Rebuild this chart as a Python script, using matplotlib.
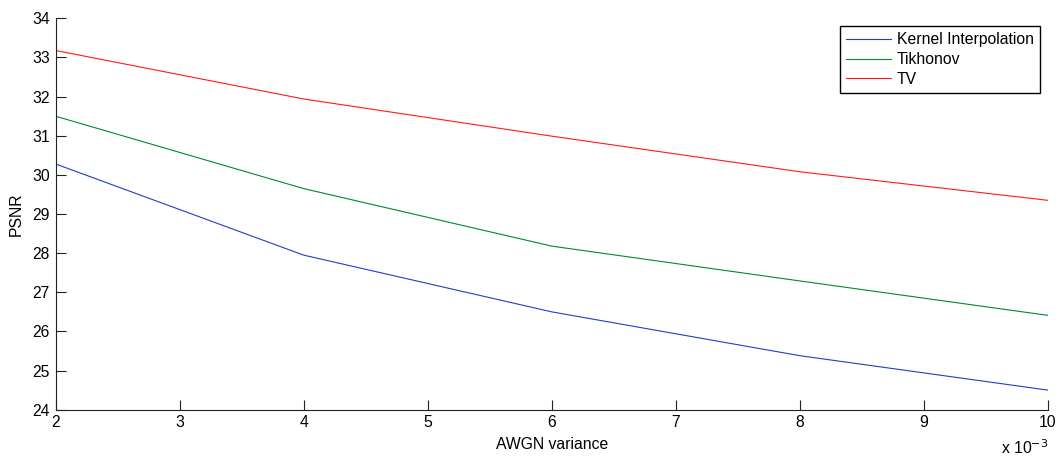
import matplotlib
matplotlib.use('Agg')
import matplotlib.pyplot as plt
import numpy as np

# AWGN variance (x 1e-3)
variance = [2, 4, 6, 8, 10]
psnr_kernel = [30.28, 27.95, 26.50, 25.38, 24.50]
psnr_tikhonov = [31.50, 29.65, 28.18, 27.29, 26.41]
psnr_tv = [33.18, 31.94, 30.99, 30.08, 29.35]

series_labels = ['Kernel Interpolation', 'Tikhonov', 'TV']
series_colors = ['#1f3fc8', '#008a30', '#ff1a1a']

FS = 11.3
plt.rcParams['font.family'] = ['Liberation Sans', 'DejaVu Sans']
plt.rcParams['font.size'] = FS

fig = plt.figure(figsize=(10.6, 4.59), dpi=100)
ax = fig.add_axes([0.0524, 0.1074, 0.9363, 0.8526])

for vals, lab, c in zip([psnr_kernel, psnr_tikhonov, psnr_tv], series_labels, series_colors):
    ax.plot(variance, vals, color=c, lw=0.8, label=lab)

ax.set_xlim(2, 10)
ax.set_ylim(24, 34)
ax.set_xticks(np.arange(2, 11, 1))
ax.set_yticks(np.arange(24, 35, 1))

for side in ['top', 'right']:
    ax.spines[side].set_visible(False)
for side in ['left', 'bottom']:
    ax.spines[side].set_color('#222222')
    ax.spines[side].set_linewidth(0.8)
ax.tick_params(direction='in', length=7, width=0.8, colors='#222222',
               labelcolor='black', labelsize=FS, pad=4)

ax.set_xlabel('AWGN variance', labelpad=5)
ax.set_ylabel('PSNR', labelpad=6)
ax.text(1.0, -0.112, r'x 10$^{-3}$', transform=ax.transAxes,
        ha='right', va='baseline', fontsize=FS)

leg = ax.legend(loc='upper right', fontsize=FS, handlelength=2.9,
                handletextpad=0.35, labelspacing=0.3, borderaxespad=0.5,
                borderpad=0.4, fancybox=False, framealpha=1)
leg.get_frame().set_edgecolor('black')
leg.get_frame().set_linewidth(1.0)

fig.savefig('out.png', dpi=100)
